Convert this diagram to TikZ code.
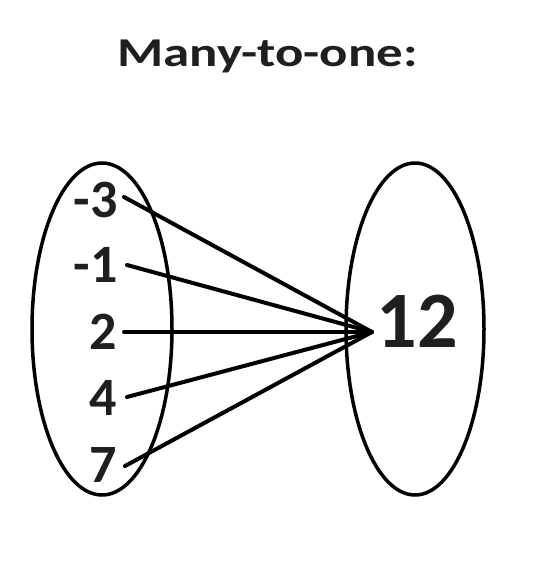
\documentclass[tikz,border=0pt]{standalone}
\usepackage{fontspec}
\usepackage{graphicx}
\setmainfont{Carlito}
\begin{document}
\begin{tikzpicture}[x=1pt,y=-1pt,
  num/.style={font=\fontsize{54}{54}\selectfont\bfseries,text=black!88,inner sep=0pt},
  conn/.style={line width=4pt,line cap=round},
  setline/.style={line width=3.5pt}]
\useasboundingbox (0,0) rectangle (535,584);
\node[font=\fontsize{41}{41}\selectfont\bfseries,text=black!88] (title) at (267.5,56) {\scalebox{1.29}[1]{Many-to-one:}};
\draw[setline] (102,329) ellipse [x radius=70,y radius=166];
\draw[setline] (415,329) ellipse [x radius=69,y radius=166];
\node[num,anchor=east] (a) at (118,200) {-3};
\node[num,anchor=east] (b) at (118,265) {-1};
\node[num] (c) at (103,332) {2};
\node[num] (d) at (103,398) {4};
\node[num] (e) at (103,465) {7};
\node[font=\fontsize{80}{80}\selectfont\bfseries,text=black!88,inner sep=0pt] (t) at (417,321) {12};
\coordinate (h) at (372,332);
\coordinate (sa) at (124,197);
\coordinate (sb) at (127,265);
\coordinate (sc) at (124,332);
\coordinate (sd) at (127,397);
\coordinate (se) at (125,466);
\foreach \s in {sa,sb,sc,sd,se} \draw[conn] (\s) -- (h);
\end{tikzpicture}
\end{document}
